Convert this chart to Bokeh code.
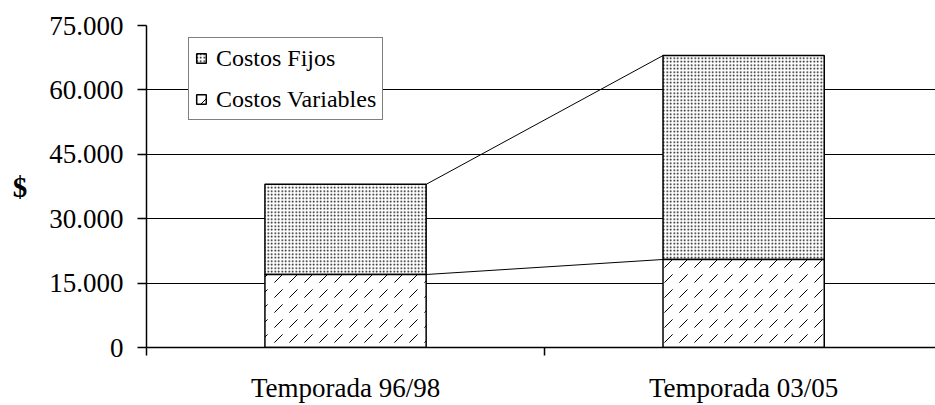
from bokeh.plotting import figure
from bokeh.models import Range1d, FixedTicker, Legend, LegendItem, ColumnDataSource
from bokeh.embed import file_html
from bokeh.resources import INLINE

categories = ["Temporada 96/98", "Temporada 03/05"]
costos_variables = [17000, 20500]
costos_fijos = [21000, 47500]
y_ticks = [0, 15000, 30000, 45000, 60000, 75000]
y_tick_labels = ["0", "15.000", "30.000", "45.000", "60.000", "75.000"]

x_pos = [i + 0.5 for i in range(len(categories))]
totals = [v + f for v, f in zip(costos_variables, costos_fijos)]
bar_w = 0.405

p = figure(width=935, height=405, output_backend="svg", toolbar_location=None,
           x_range=Range1d(0, 1.982), y_range=Range1d(0, 75000),
           min_border_left=146, min_border_top=25, min_border_bottom=54,
           min_border_right=0)
p.outline_line_color = None
p.background_fill_color = "white"
p.xgrid.visible = False
p.ygrid.ticker = FixedTicker(ticks=y_ticks)
p.ygrid.grid_line_color = "black"
p.ygrid.grid_line_width = 1.2

src = ColumnDataSource(dict(x=x_pos, var=costos_variables, top=totals, fij=costos_fijos))

# connecting series lines
lx = [x_pos[0] + bar_w / 2, x_pos[1] - bar_w / 2]
p.line(lx, totals, line_color="black", line_width=1)
p.line(lx, costos_variables, line_color="black", line_width=1)

r_fij = p.vbar(x="x", bottom="var", top="top", width=bar_w, source=src,
               fill_color="white", line_color="black", line_width=1.5,
               hatch_pattern="dot", hatch_scale=3.5, hatch_weight=1.4, hatch_color="black")
r_var = p.vbar(x="x", bottom=0, top="var", width=bar_w, source=src,
               fill_color="white", line_color="black", line_width=1.5,
               hatch_pattern="right_diagonal_dash", hatch_scale=15, hatch_weight=1,
               hatch_color="black")

# y axis
ya = p.yaxis[0]
ya.ticker = FixedTicker(ticks=y_ticks)
ya.major_label_overrides = dict(zip(y_ticks, y_tick_labels))
ya.major_tick_out = 9
ya.major_tick_in = 0
ya.minor_tick_line_color = None
ya.axis_line_width = 1.5
ya.major_tick_line_width = 1.5
ya.major_label_text_font = "Liberation Serif"
ya.major_label_text_font_size = "27px"
ya.major_label_text_color = "black"
ya.major_label_standoff = 14
ya.axis_label = "$"
ya.axis_label_text_font = "Liberation Serif"
ya.axis_label_text_font_size = "29px"
ya.axis_label_text_font_style = "bold"
ya.axis_label_text_color = "black"
ya.axis_label_orientation = "horizontal"
ya.axis_label_standoff = 19

# x axis
xa = p.xaxis[0]
xa.ticker = FixedTicker(ticks=x_pos, minor_ticks=[i for i in range(len(categories) + 1)])
xa.major_label_overrides = {x: c for x, c in zip(x_pos, categories)}
xa.major_tick_line_color = None
xa.major_tick_out = 8
xa.minor_tick_out = 8
xa.minor_tick_in = 0
xa.minor_tick_line_color = "black"
xa.minor_tick_line_width = 1.5
xa.axis_line_width = 1.5
xa.major_label_text_font = "Liberation Serif"
xa.major_label_text_font_size = "27px"
xa.major_label_text_color = "black"
xa.major_label_standoff = 17

legend = Legend(items=[LegendItem(label="Costos Fijos", renderers=[r_fij]),
                       LegendItem(label="Costos Variables", renderers=[r_var])],
                location=(42, 227))
legend.border_line_color = "black"
legend.border_line_width = 1
legend.background_fill_color = "white"
legend.background_fill_alpha = 1
legend.label_text_font = "Liberation Serif"
legend.label_text_font_size = "24px"
legend.label_text_color = "black"
legend.glyph_width = 12
legend.glyph_height = 12
legend.label_height = 28
legend.spacing = 13
legend.padding = 6
legend.label_standoff = 9
legend.margin = 0
p.add_layout(legend)

open("out.html", "w").write(file_html(p, INLINE))
